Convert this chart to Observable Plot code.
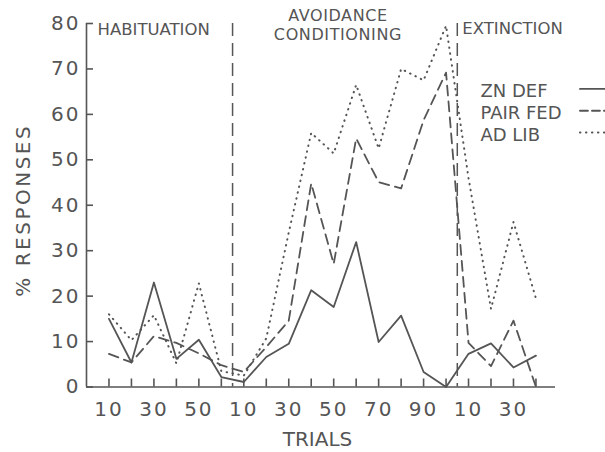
<!DOCTYPE html>
<html><head><meta charset="utf-8">
<script src="https://cdn.jsdelivr.net/npm/d3@7"></script>
<script src="https://cdn.jsdelivr.net/npm/@observablehq/plot@0.6"></script>
<style>
html,body{margin:0;padding:0;background:#fff;overflow:hidden;}
#chart svg{display:block;}
</style></head><body><div id="chart"></div>
<script>
// ---- data ----
const phases = ["HABITUATION", "AVOIDANCE\nCONDITIONING", "EXTINCTION"];
const habTrials = [10, 20, 30, 40, 50, 60];
const avoidTrials = [10, 20, 30, 40, 50, 60, 70, 80, 90, 100];
const extTrials = [10, 20, 30, 40];
const seriesNames = ["ZN DEF", "PAIR FED", "AD LIB"];
const znDef   = [15.0, 5.4, 23.0, 6.2, 10.4, 2.2, 1.1, 6.6, 9.5, 21.3, 17.6, 31.9, 9.9, 15.7, 3.3, 0.0, 7.3, 9.6, 4.3, 6.9];
const pairFed = [7.3, 5.4, 11.2, 9.7, 7.4, 4.8, 3.3, 8.8, 14.6, 44.8, 27.1, 54.7, 45.1, 43.7, 58.7, 69.2, 9.7, 4.6, 14.6, 0.0];
const adLib   = [16.0, 10.3, 15.8, 5.2, 22.8, 3.5, 2.5, 10.7, 34.0, 55.9, 51.4, 66.5, 52.5, 70.0, 67.5, 79.5, 46.0, 17.2, 36.3, 19.5];
const yTicks = [0, 10, 20, 30, 40, 50, 60, 70, 80];
const yLabel = "% RESPONSES";
const xLabel = "TRIALS";

// ---- derived ----
const trials = [...habTrials, ...avoidTrials, ...extTrials];
const idx = d3.range(trials.length);
const b1 = habTrials.length - 0.5;
const b2 = habTrials.length + avoidTrials.length - 0.5;
const seriesValues = [znDef, pairFed, adLib];
const dashes = [null, "10,6", "0.5,5.5"];
const ink = "#555";
const font = "DejaVu Sans, Verdana, sans-serif";
const midLines = phases[1].split("\n");

const seriesMarks = seriesValues.map((vals, k) =>
  Plot.line(idx, {x: i => i, y: i => vals[i], stroke: ink, strokeWidth: k === 2 ? 2 : 1.8,
    strokeDasharray: dashes[k], strokeLinecap: "round", strokeLinejoin: "round"})
);

const legendMarks = seriesNames.flatMap((name, k) => {
  const yv = 65.6 - 4.8 * k;
  return [
    Plot.text([name], {x: 16.53, y: yv, text: d => d, textAnchor: "start", lineAnchor: "middle", dy: 2.5,
      fontSize: 18, fill: ink, fontFamily: font}),
    Plot.ruleY([yv], {x1: 20.98, x2: 22.6, stroke: ink, strokeWidth: k === 2 ? 2 : 1.8,
      strokeDasharray: k === 1 ? "8,4" : dashes[k], strokeLinecap: "round"})
  ];
});

const chart = Plot.plot({
  width: 605, height: 452,
  marginLeft: 86, marginRight: 50, marginTop: 23, marginBottom: 65.5,
  style: {fontFamily: font, color: ink, background: "white", overflow: "visible"},
  x: {domain: [-1, 19.87], axis: null},
  y: {domain: [0, 80], axis: null},
  marks: [
    Plot.ruleX([-1], {stroke: ink, strokeWidth: 1.6}),
    Plot.ruleY([0], {stroke: ink, strokeWidth: 1.6}),
    Plot.axisY(yTicks, {tickSize: -7, tickPadding: 13, fontSize: 20, stroke: ink, strokeWidth: 1.6, fill: ink}),
    Plot.axisX(idx, {tickSize: -8, tickPadding: 22.5, fontSize: 20, stroke: ink, strokeWidth: 1.6, fill: ink,
      tickFormat: i => (trials[i] / 10) % 2 === 1 ? String(trials[i]) : ""}),
    Plot.ruleX([b1, b2], {stroke: ink, strokeWidth: 1.5, strokeDasharray: "13,7"}),
    Plot.text([phases[0]], {x: -1, y: 80, text: d => d, textAnchor: "start", lineAnchor: "top", dx: 11, dy: 0, fontSize: 16.5, fill: ink}),
    Plot.text([midLines[0]], {x: (b1 + b2) / 2, y: 80, text: d => d, textAnchor: "middle", lineAnchor: "top", dx: -7, dy: -13.5, fontSize: 16, fill: ink}),
    Plot.text([midLines[1]], {x: (b1 + b2) / 2, y: 80, text: d => d, textAnchor: "middle", lineAnchor: "top", dx: -7, dy: 5.5, fontSize: 16, fill: ink}),
    Plot.text([phases[2]], {x: b2, y: 80, text: d => d, textAnchor: "start", lineAnchor: "top", dx: 5, dy: -1, fontSize: 16.5, fill: ink}),
    ...seriesMarks,
    ...legendMarks,
    Plot.text([xLabel], {frameAnchor: "bottom", text: d => d, textAnchor: "middle", lineAnchor: "bottom", dx: -3.5, dy: 58.5, fontSize: 20, fill: ink}),
    Plot.text([yLabel], {frameAnchor: "left", text: d => d, rotate: -90, textAnchor: "middle", lineAnchor: "middle", dx: -63, dy: 5, fontSize: 20, fill: ink})
  ]
});
document.getElementById("chart").appendChild(chart);
const svg = d3.select(chart);
svg.selectAll("g[aria-label='y-axis tick label'] text, g[aria-label='x-axis tick label'] text").attr("letter-spacing", 2);
svg.selectAll("text").filter(function(){ return this.textContent === yLabel; }).attr("letter-spacing", 2.5);
svg.selectAll("text").filter(function(){ return midLines.includes(this.textContent); }).attr("letter-spacing", 0.6);
</script>
</body></html>
